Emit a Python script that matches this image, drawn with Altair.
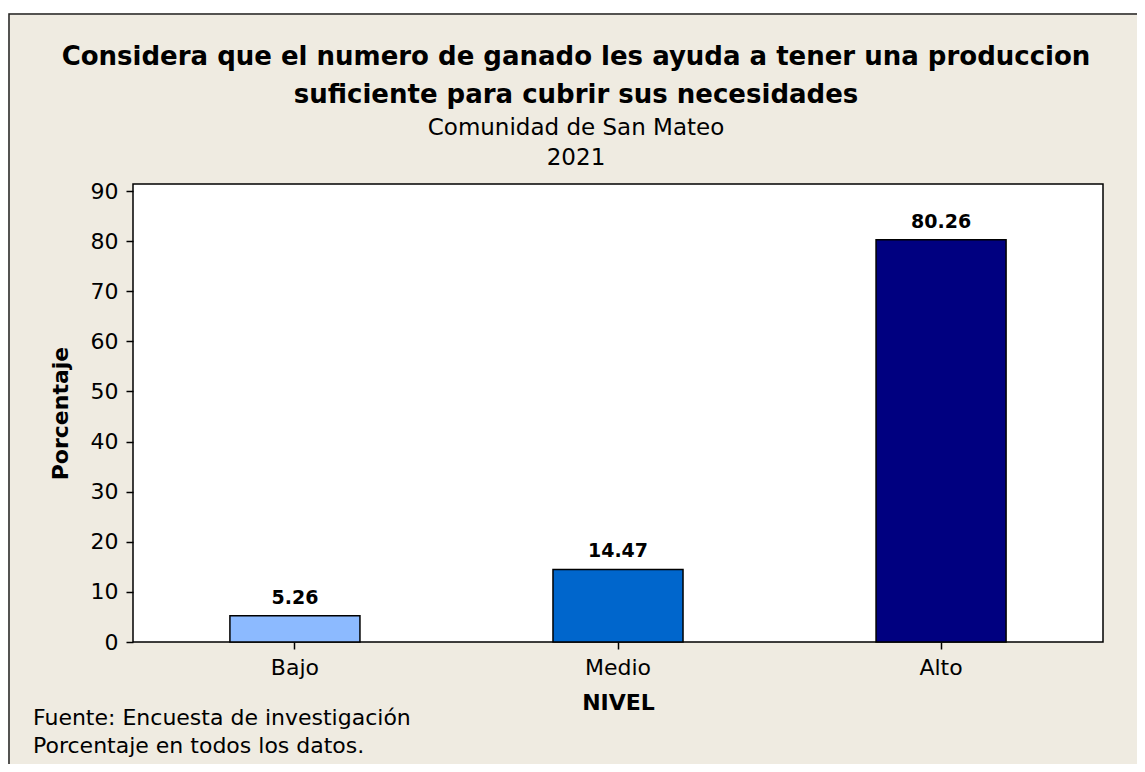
import altair as alt
import pandas as pd

niveles = ["Bajo", "Medio", "Alto"]
porcentajes = [5.26, 14.47, 80.26]
colores = ["#8CBAFF", "#0066CC", "#000080"]
y_ticks = [0, 10, 20, 30, 40, 50, 60, 70, 80, 90]

titulo = ["Considera que el numero de ganado les ayuda a tener una produccion",
          "suficiente para cubrir sus necesidades"]
subtitulo = ["Comunidad de San Mateo", "2021"]
nota = ["Fuente: Encuesta de investigación", "Porcentaje en todos los datos."]

F = "DejaVu Sans"
BEIGE = "#EFEBE1"

df = pd.DataFrame({"nivel": niveles, "pct": porcentajes})

x_enc = alt.X(
    "nivel:N", sort=niveles,
    scale=alt.Scale(paddingInner=0.5975, paddingOuter=0.30),
    axis=alt.Axis(title="NIVEL", labelAngle=0, domain=False, ticks=True,
                  tickSize=7, tickWidth=1.5, tickColor="black",
                  labelPadding=8, labelFontSize=22, labelFont=F, labelColor="black",
                  titleFont=F, titleFontSize=22, titleFontWeight="bold",
                  titleColor="black", titlePadding=14),
)
y_enc = alt.Y(
    "pct:Q",
    scale=alt.Scale(domain=[0, 91.4], nice=False, zero=True),
    axis=alt.Axis(title="Porcentaje", values=y_ticks, grid=False, domain=False,
                  tickSize=7, tickWidth=1.5, tickColor="black",
                  labelPadding=8, labelFontSize=22, labelFont=F, labelColor="black",
                  titleFont=F, titleFontSize=22, titleFontWeight="bold",
                  titleColor="black", titlePadding=18),
)

base = alt.Chart(df)

bars = base.mark_bar(stroke="black", strokeWidth=1.5).encode(
    x=x_enc, y=y_enc,
    color=alt.Color("nivel:N", scale=alt.Scale(domain=niveles, range=colores), legend=None),
)

labels = base.mark_text(baseline="bottom", dy=-8, fontSize=19, fontWeight="bold",
                        font=F, color="black").encode(
    x=alt.X("nivel:N", sort=niveles),
    y=alt.Y("pct:Q"),
    text=alt.Text("pct:Q", format=".2f"),
)

one = alt.Data(values=[{}])

border = alt.Chart(one).mark_rect(fillOpacity=0, stroke="#222222", strokeWidth=1.5).encode(
    x=alt.value(-124), x2=alt.value(1100), y=alt.value(-170), y2=alt.value(700)
)
topstrip = alt.Chart(one).mark_rect(fill="white", strokeWidth=0).encode(
    x=alt.value(-130), x2=alt.value(1100), y=alt.value(-180), y2=alt.value(-171)
)

footnote = alt.Chart(one).mark_text(align="left", baseline="alphabetic", fontSize=22,
                                    font=F, color="black", lineHeight=28).encode(
    x=alt.value(-100), y=alt.value(541), text=alt.value(nota)
)

chart = alt.layer(topstrip, border, bars, labels, footnote).properties(
    width=970, height=458,
    title=alt.TitleParams(text=titulo, subtitle=subtitulo, anchor="middle", dx=-42,
                          font=F, fontSize=26, fontWeight="bold", color="black",
                          lineHeight=38, subtitleFont=F, subtitleFontSize=23,
                          subtitleColor="black", subtitleLineHeight=30,
                          subtitlePadding=9, offset=-166),
    autosize=alt.AutoSizeParams(type="none"),
    padding={"left": 125, "top": 176, "right": 34, "bottom": 122},
    background=BEIGE,
).configure_view(fill="white", stroke="black", strokeWidth=1.5)

chart.save("out.html", embed_options={"renderer": "svg", "actions": False})
